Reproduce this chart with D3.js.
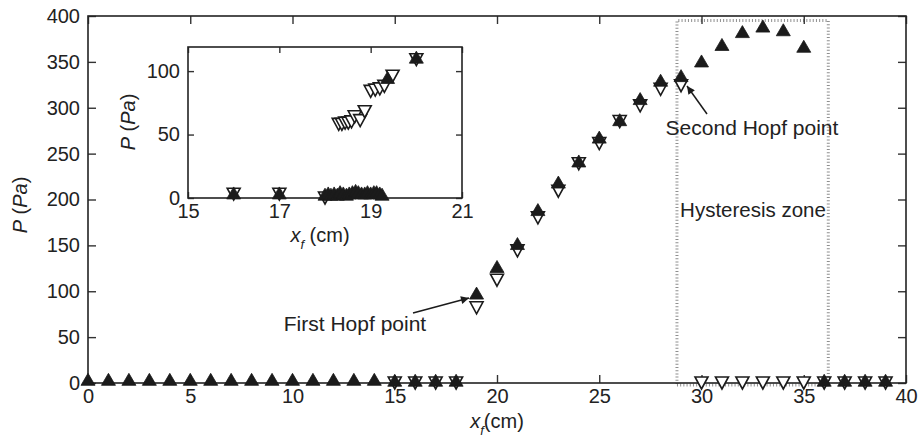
<!DOCTYPE html>
<html><head><meta charset="utf-8">
<script src="https://cdn.jsdelivr.net/npm/d3@7"></script>
<style>
body{margin:0;background:#fff;}
text{font-family:"Liberation Sans",Arial,Helvetica,sans-serif;fill:#222;}
</style></head>
<body><svg id="c" width="919" height="446"></svg>
<script>
// ---------- data (main chart) ----------
const mainXTicks = [0,5,10,15,20,25,30,35,40];
const mainYTicks = [0,50,100,150,200,250,300,350,400];
const upX = [0,1,2,3,4,5,6,7,8,9,10,11,12,13,14,15,16,17,18,19,20,21,22,23,24,25,26,27,28,29,30,31,32,33,34,35,36,37,38,39];
const upP = [4,4,4,4,4,4,4,4,4,4,4,4,4,4,4,3,3,3,3,98,127,152,189,219,242,268,287,310,330,335,351,369,383,389,385,367,3,3,3,3];
const downX = [15,16,17,18,19,20,21,22,23,24,25,26,27,28,29,30,31,32,33,34,35,36,37,38,39];
const downP = [0,0,0,0,82,112,144,180,209,239,261,285,302,320,324,0,0,0,0,0,0,0,0,0,0];
const hysteresisX = [28.8,36.2];
const hysteresisTop = 395;

// ---------- data (inset) ----------
const insetXTicks = [15,17,19,21];
const insetYTicks = [0,50,100];
const inUpX = [16,17,18.0,18.07,18.13,18.2,18.27,18.33,18.4,18.47,18.53,18.6,18.67,18.73,18.8,18.87,18.93,19.0,19.07,19.13,19.2,19.25,19.37,20];
const inUpP = [4,4,3,4,3,4,3,5,4,3,4,5,6,5,4,4,5,4,5,5,4,3,95,111];
const inDownX = [16,17,18,18.3,18.37,18.44,18.51,18.58,18.65,18.77,18.87,19.0,19.1,19.2,19.3,19.48,20];
const inDownP = [3,3,0,58,58,59,59,60,64,61,68,84,85,86,88,96,109];

const svg = d3.select("#c");
const ink = "#1b1b1b";

// triangle symbols
const triUp = {draw(ctx,s){const w=7,h=6;ctx.moveTo(0,-h);ctx.lineTo(w,h);ctx.lineTo(-w,h);ctx.closePath();}};
const triDown = {draw(ctx,s){const w=6.5,h=6;ctx.moveTo(0,h);ctx.lineTo(w,-h);ctx.lineTo(-w,-h);ctx.closePath();}};

svg.append("defs").append("marker").attr("id","ah").attr("viewBox","0 0 10 10")
  .attr("refX",10).attr("refY",5).attr("markerWidth",14).attr("markerHeight",8)
  .attr("markerUnits","userSpaceOnUse").attr("orient","auto")
  .append("path").attr("d","M0,0L10,5L0,10z").attr("fill",ink);

const fmt = d3.format("d");
function frame(g,x,y,xt,yt,tl){
  const [x0,x1]=x.range(), [y0,y1]=y.range();
  const style = a=>{a.select(".domain").remove();a.selectAll("line").attr("stroke","#333").attr("stroke-width",1.4);a.selectAll("text").style("font-size","20px").attr("fill","#222");};
  g.append("g").attr("transform",`translate(0,${y0})`)
    .call(d3.axisBottom(x).tickValues(xt).tickFormat(fmt).tickSizeInner(-tl).tickSizeOuter(0).tickPadding(6)).call(style);
  g.append("g").attr("transform",`translate(0,${y1})`)
    .call(d3.axisTop(x).tickValues(xt).tickSizeInner(-tl).tickSizeOuter(0).tickFormat("")).call(style);
  g.append("g").attr("transform",`translate(${x0},0)`)
    .call(d3.axisLeft(y).tickValues(yt).tickFormat(fmt).tickSizeInner(-tl).tickSizeOuter(0).tickPadding(8)).call(style);
  g.append("g").attr("transform",`translate(${x1},0)`)
    .call(d3.axisRight(y).tickValues(yt).tickSizeInner(-tl).tickSizeOuter(0).tickFormat("")).call(style);
  g.append("rect").attr("x",x0).attr("y",y1).attr("width",x1-x0).attr("height",y0-y1)
    .attr("fill","none").attr("stroke","#222").attr("stroke-width",1.6);
}

function markers(g,x,y,ux,up,dx,dp){
  g.append("g").selectAll("path").data(dx.map((v,i)=>[v,dp[i]])).join("path")
    .attr("d",d3.symbol(triDown)).attr("transform",d=>`translate(${x(d[0])},${y(d[1])})`)
    .attr("fill","#fff").attr("stroke",ink).attr("stroke-width",1.6);
  g.append("g").selectAll("path").data(ux.map((v,i)=>[v,up[i]])).join("path")
    .attr("d",d3.symbol(triUp)).attr("transform",d=>`translate(${x(d[0])},${y(d[1])})`)
    .attr("fill",ink).attr("stroke",ink).attr("stroke-width",0.8);
}

// ---------- main ----------
const x = d3.scaleLinear().domain([0,40]).range([88,906]);
const y = d3.scaleLinear().domain([0,400]).range([383,16]);
const gm = svg.append("g");

// hysteresis zone dotted box
const hz = gm.append("g").attr("stroke","#8f8f8f").attr("stroke-width",3).attr("stroke-dasharray","1,2.2").attr("fill","none");
hz.append("path").attr("d",`M${x(hysteresisX[0])},${y(0)+1}V${y(hysteresisTop)}H${x(hysteresisX[1])}V${y(0)+1}`);
hz.append("path").attr("d",`M${x(hysteresisX[0])},${y(0)+2}H${x(hysteresisX[1])}`);

frame(gm,x,y,mainXTicks,mainYTicks,8);
markers(gm,x,y,upX,upP,downX,downP);

// axis labels
const xl = gm.append("text").attr("x",497).attr("y",428).attr("text-anchor","middle").style("font-size","20px");
xl.append("tspan").attr("font-style","italic").text("x");
xl.append("tspan").attr("font-style","italic").attr("dy",7).style("font-size","13px").text("f");
xl.append("tspan").attr("dy",-7).text("(cm)");
const yl = gm.append("text").attr("transform","translate(27,205) rotate(-90)").attr("text-anchor","middle").style("font-size","20px");
yl.append("tspan").attr("font-style","italic").text("P");
yl.append("tspan").text(" (");
yl.append("tspan").attr("font-style","italic").text("Pa");
yl.append("tspan").text(")");

// annotations
gm.append("text").attr("x",753).attr("y",217).attr("text-anchor","middle").style("font-size","20.5px").text("Hysteresis zone");
gm.append("text").attr("x",752).attr("y",135).attr("text-anchor","middle").style("font-size","21px").text("Second Hopf point");
gm.append("text").attr("x",355).attr("y",331).attr("text-anchor","middle").style("font-size","21px").text("First Hopf point");
gm.append("line").attr("x1",707).attr("y1",114).attr("x2",687).attr("y2",86).attr("stroke",ink).attr("stroke-width",1.5).attr("marker-end","url(#ah)");
gm.append("line").attr("x1",413).attr("y1",313).attr("x2",469).attr("y2",298).attr("stroke",ink).attr("stroke-width",1.5).attr("marker-end","url(#ah)");

// ---------- inset ----------
const xi = d3.scaleLinear().domain([15,21]).range([188,462]);
const yi = d3.scaleLinear().domain([0,119]).range([198,47]);
const gi = svg.append("g");
gi.append("rect").attr("x",188).attr("y",47).attr("width",274).attr("height",151).attr("fill","#fff");
frame(gi,xi,yi,insetXTicks,insetYTicks,6);
markers(gi,xi,yi,inUpX,inUpP,inDownX,inDownP);
const ixl = gi.append("text").attr("x",320).attr("y",242).attr("text-anchor","middle").style("font-size","20px");
ixl.append("tspan").attr("font-style","italic").text("x");
ixl.append("tspan").attr("font-style","italic").attr("dy",7).style("font-size","13px").text("f");
ixl.append("tspan").attr("dy",-7).text(" (cm)");
const iyl = gi.append("text").attr("transform","translate(135,122) rotate(-90)").attr("text-anchor","middle").style("font-size","20px");
iyl.append("tspan").attr("font-style","italic").text("P");
iyl.append("tspan").text(" (");
iyl.append("tspan").attr("font-style","italic").text("Pa");
iyl.append("tspan").text(")");
</script></body></html>
